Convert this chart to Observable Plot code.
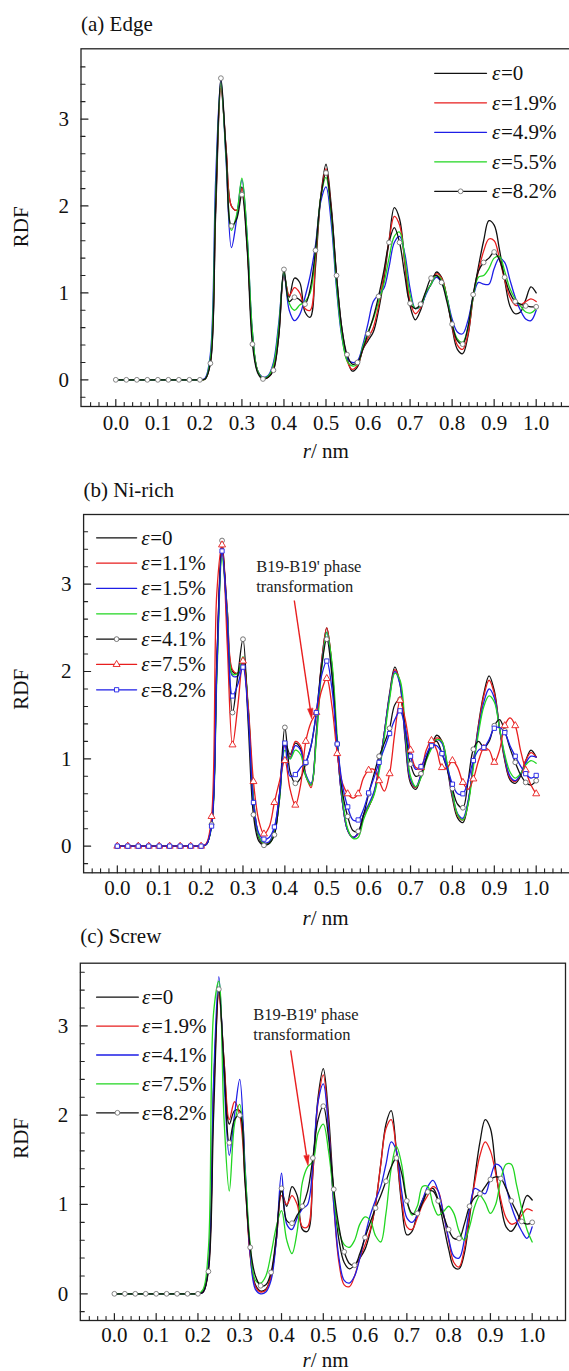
<!DOCTYPE html>
<html><head><meta charset="utf-8">
<script src="https://cdn.jsdelivr.net/npm/d3@7"></script>
<script src="https://cdn.jsdelivr.net/npm/@observablehq/plot@0.6"></script>
<style>
html,body{margin:0;padding:0;background:#fff;overflow:hidden;}
#root{position:relative;width:569px;height:1371px;overflow:hidden;background:#fff;font-family:"Liberation Serif","DejaVu Serif",serif;}
#root svg, #root svg text, #root svg tspan{font-family:"Liberation Serif","DejaVu Serif",serif !important;}
</style></head>
<body><div id="root"></div>
<script>
// shared r grid (nm)
const r = [0,0.0125,0.025,0.0375,0.05,0.0625,0.075,0.0875,0.1,0.1125,0.125,0.1375,0.15,0.1625,0.175,0.1875,
0.2,0.2125,0.225,0.2375,0.25,0.2625,0.275,0.2875,0.3,0.3125,0.325,0.3375,0.35,
0.3625,0.375,0.3875,0.4,0.4125,0.425,0.4375,0.45,0.4625,0.475,0.4875,0.5,0.5125,
0.525,0.5375,0.55,0.5625,0.575,0.5875,0.6,0.6125,0.625,0.6375,0.65,0.6625,0.675,
0.6875,0.7,0.7125,0.725,0.7375,0.75,0.7625,0.775,0.7875,0.8,0.8125,0.825,0.8375,
0.85,0.8625,0.875,0.8875,0.9,0.9125,0.925,0.9375,0.95,0.9625,0.975,0.9875,1.0];

// (a) Edge
const edge_0 = [0,0,0,0,0,0,0,0,0,0,0,0,0,0,0,0,
0,0.01,0.2,1.9,3.35,2.65,2.0,1.95,2.22,1.55,0.5,0.1,0.02,
0.03,0.12,0.5,1.2,0.95,1.17,1.12,0.78,0.72,1.3,2.1,2.48,2.0,
1.2,0.6,0.25,0.1,0.15,0.35,0.45,0.55,0.8,1.15,1.6,1.98,1.85,
1.35,0.85,0.69,0.8,1.0,1.1,1.24,1.18,0.95,0.6,0.35,0.3,0.5,
0.95,1.3,1.6,1.83,1.78,1.5,1.15,0.85,0.76,0.78,0.92,1.07,1.0];
const edge_19 = [0,0,0,0,0,0,0,0,0,0,0,0,0,0,0,0,
0,0.01,0.22,2.0,3.38,2.65,2.0,1.95,2.2,1.55,0.5,0.1,0.02,
0.03,0.14,0.55,1.2,0.97,1.06,1.0,0.82,0.8,1.38,2.1,2.43,1.95,
1.15,0.55,0.22,0.12,0.17,0.35,0.48,0.6,0.85,1.2,1.6,1.88,1.78,
1.35,0.9,0.76,0.83,1.0,1.1,1.22,1.17,0.95,0.62,0.4,0.35,0.52,
0.95,1.25,1.48,1.62,1.6,1.4,1.15,0.95,0.86,0.86,0.9,0.93,0.9];
const edge_49 = [0,0,0,0,0,0,0,0,0,0,0,0,0,0,0,0,
0,0.02,0.3,2.3,3.45,2.5,1.52,1.85,2.3,1.65,0.55,0.1,0.03,
0.05,0.2,0.65,1.22,0.8,0.68,0.75,0.95,1.2,1.55,2.05,2.22,1.8,
1.05,0.5,0.25,0.2,0.22,0.4,0.65,0.9,0.98,1.05,1.3,1.58,1.65,
1.45,1.05,0.82,0.85,0.98,1.1,1.18,1.12,0.95,0.7,0.55,0.53,0.68,
0.95,1.12,1.1,1.1,1.28,1.4,1.35,1.15,0.95,0.8,0.7,0.68,0.8];
const edge_55 = [0,0,0,0,0,0,0,0,0,0,0,0,0,0,0,0,
0,0.01,0.25,2.1,3.42,2.55,1.72,1.9,2.32,1.65,0.55,0.1,0.02,
0.04,0.17,0.6,1.24,0.88,0.8,0.86,0.9,1.0,1.45,2.1,2.33,1.9,
1.1,0.52,0.22,0.16,0.18,0.38,0.55,0.7,0.9,1.1,1.4,1.65,1.7,
1.4,0.98,0.82,0.85,1.0,1.1,1.2,1.15,0.95,0.65,0.47,0.43,0.6,
0.95,1.18,1.2,1.28,1.4,1.42,1.25,1.05,0.93,0.85,0.78,0.77,0.82];
const edge_82 = [0,0,0,0,0,0,0,0,0,0,0,0,0,0,0,0,
0,0.01,0.19,2.0,3.47,2.6,1.77,1.85,2.13,1.5,0.41,0.08,0.01,
0.03,0.11,0.5,1.27,0.9,0.95,0.92,0.87,1.05,1.49,2.1,2.38,1.95,
1.2,0.6,0.29,0.18,0.2,0.35,0.53,0.72,0.96,1.25,1.58,1.75,1.58,
1.2,0.88,0.82,0.87,1.02,1.17,1.2,1.12,0.9,0.64,0.45,0.41,0.6,
0.98,1.25,1.35,1.4,1.47,1.38,1.18,1.0,0.9,0.87,0.85,0.84,0.84];

// (b) Ni-rich
const ni_0 = [0,0,0,0,0,0,0,0,0,0,0,0,0,0,0,0,
0,0.02,0.25,2.0,3.38,2.7,2.0,1.98,2.15,1.55,0.5,0.1,0.02,
0.03,0.15,0.55,1.2,1.05,1.18,1.12,0.8,0.7,1.3,2.1,2.5,2.05,
1.15,0.5,0.18,0.1,0.15,0.35,0.45,0.6,0.9,1.3,1.75,2.05,1.85,
1.2,0.72,0.65,0.8,1.0,1.15,1.27,1.2,0.9,0.55,0.32,0.27,0.5,
0.95,1.4,1.75,1.95,1.78,1.35,0.98,0.76,0.72,0.8,0.98,1.1,1.02];
const ni_11 = [0,0,0,0,0,0,0,0,0,0,0,0,0,0,0,0,
0,0.02,0.25,2.1,3.45,2.7,2.02,1.98,2.1,1.55,0.55,0.12,0.03,
0.04,0.18,0.6,1.15,1.02,1.2,1.15,0.82,0.67,1.25,2.1,2.5,2.05,
1.15,0.5,0.18,0.1,0.14,0.35,0.45,0.6,0.9,1.3,1.72,2.02,1.88,
1.25,0.75,0.67,0.82,1.0,1.13,1.24,1.2,0.92,0.58,0.35,0.3,0.5,
0.95,1.38,1.72,1.9,1.75,1.35,1.0,0.78,0.74,0.82,0.98,1.07,1.02];
const ni_15 = [0,0,0,0,0,0,0,0,0,0,0,0,0,0,0,0,
0,0.02,0.25,2.1,3.4,2.65,1.95,1.95,2.12,1.55,0.55,0.12,0.04,
0.05,0.2,0.62,1.18,1.0,1.15,1.1,0.82,0.72,1.25,2.05,2.45,2.0,
1.12,0.5,0.18,0.1,0.15,0.36,0.48,0.62,0.9,1.3,1.72,2.0,1.85,
1.25,0.76,0.68,0.82,1.0,1.13,1.22,1.18,0.92,0.6,0.37,0.32,0.52,
0.95,1.35,1.65,1.8,1.7,1.35,1.02,0.8,0.75,0.82,0.95,1.03,1.02];
const ni_19 = [0,0,0,0,0,0,0,0,0,0,0,0,0,0,0,0,
0,0.02,0.22,1.9,3.3,2.65,1.97,1.98,2.17,1.6,0.55,0.12,0.03,
0.03,0.15,0.55,1.1,1.0,1.1,1.05,0.8,0.7,1.2,2.0,2.45,2.1,
1.25,0.55,0.2,0.09,0.1,0.3,0.45,0.58,0.85,1.25,1.68,1.98,1.9,
1.35,0.8,0.68,0.78,0.98,1.12,1.22,1.2,0.95,0.62,0.36,0.3,0.48,
0.9,1.3,1.6,1.72,1.65,1.35,1.05,0.85,0.78,0.83,0.93,0.98,0.95];
const ni_41 = [0,0,0,0,0,0,0,0,0,0,0,0,0,0,0,0,
0,0.02,0.25,2.1,3.5,2.5,1.53,1.95,2.37,1.4,0.36,0.06,0.01,
0.03,0.13,0.6,1.36,0.85,0.72,0.78,0.95,1.15,1.52,2.05,2.37,1.95,
1.17,0.62,0.34,0.18,0.17,0.35,0.6,0.82,1.03,1.18,1.35,1.62,1.68,
1.35,0.94,0.8,0.83,1.0,1.17,1.2,1.06,0.88,0.66,0.48,0.44,0.75,
1.11,1.2,1.13,1.2,1.38,1.45,1.32,1.12,0.96,0.82,0.73,0.7,0.75];
const ni_75 = [0,0,0,0,0,0,0,0,0,0,0,0,0,0,0,0,
0,0.03,0.34,2.9,3.45,2.3,1.16,1.6,2.12,1.6,0.74,0.3,0.14,
0.22,0.5,0.75,0.98,0.65,0.47,0.7,1.2,1.42,1.53,1.78,1.92,1.6,
1.06,0.72,0.6,0.55,0.6,0.78,0.87,0.88,0.75,0.63,0.83,1.3,1.67,
1.45,1.1,0.9,0.9,1.1,1.21,1.1,0.9,0.9,0.98,0.9,0.73,0.65,
0.77,0.98,1.12,1.1,0.96,1.1,1.38,1.47,1.38,1.1,0.87,0.7,0.6];
const ni_82 = [0,0,0,0,0,0,0,0,0,0,0,0,0,0,0,0,
0,0.02,0.23,2.0,3.38,2.6,1.72,1.85,2.05,1.5,0.5,0.15,0.08,
0.1,0.22,0.6,1.18,0.8,0.82,0.9,0.96,1.15,1.53,1.95,2.12,1.8,
1.17,0.7,0.45,0.3,0.3,0.42,0.61,0.78,0.96,1.12,1.29,1.45,1.55,
1.35,1.03,0.88,0.91,1.05,1.15,1.15,1.06,0.9,0.71,0.6,0.6,0.75,
0.98,1.1,1.13,1.22,1.35,1.36,1.3,1.15,1.03,0.92,0.83,0.78,0.81];

// (c) Screw
const sc_0 = [0,0,0,0,0,0,0,0,0,0,0,0,0,0,0,0,
0,0.02,0.3,2.3,3.4,2.6,1.9,2.05,2.05,1.35,0.45,0.1,0.03,
0.05,0.2,0.6,1.15,0.98,1.2,1.1,0.72,0.7,1.35,2.2,2.52,2.0,
1.15,0.6,0.35,0.28,0.32,0.4,0.5,0.7,1.0,1.45,1.9,2.05,1.6,
1.0,0.66,0.7,0.9,1.05,1.15,1.18,1.05,0.78,0.5,0.3,0.28,0.45,
0.85,1.3,1.7,1.95,1.85,1.4,1.0,0.75,0.7,0.78,0.95,1.1,1.05];
const sc_19 = [0,0,0,0,0,0,0,0,0,0,0,0,0,0,0,0,
0,0.02,0.28,2.2,3.35,2.6,1.95,2.15,2.0,1.3,0.42,0.08,0.02,
0.04,0.2,0.6,1.1,1.0,1.1,1.0,0.75,0.75,1.35,2.15,2.45,1.9,
1.0,0.35,0.1,0.08,0.2,0.4,0.55,0.72,1.0,1.45,1.85,1.95,1.6,
1.05,0.75,0.72,0.85,1.0,1.1,1.2,1.15,0.9,0.6,0.35,0.3,0.5,
0.9,1.25,1.55,1.7,1.6,1.35,1.05,0.85,0.78,0.8,0.88,0.95,0.93];
const sc_41 = [0,0,0,0,0,0,0,0,0,0,0,0,0,0,0,0,
0,0.02,0.3,2.4,3.55,2.4,1.55,2.0,2.4,1.45,0.45,0.05,0.0,
0.02,0.15,0.6,1.35,0.78,0.72,0.85,0.95,1.0,1.45,2.15,2.35,1.85,
1.0,0.4,0.15,0.12,0.2,0.4,0.65,0.88,1.05,1.2,1.45,1.7,1.6,
1.15,0.85,0.8,0.88,1.05,1.2,1.27,1.15,0.9,0.62,0.42,0.4,0.6,
0.95,1.18,1.15,1.12,1.3,1.45,1.42,1.2,0.98,0.82,0.7,0.62,0.75];
const sc_75 = [0,0,0,0,0,0,0,0,0,0,0,0,0,0,0,0,
0,0.05,0.5,3.15,3.5,1.95,1.15,1.9,2.12,1.4,0.55,0.15,0.12,
0.2,0.45,0.75,0.93,0.6,0.45,0.7,1.25,1.42,1.48,1.8,1.9,1.6,
1.1,0.7,0.55,0.52,0.6,0.78,0.86,0.82,0.65,0.58,0.9,1.4,1.65,
1.45,1.05,0.88,0.98,1.2,1.2,1.0,0.88,0.92,0.98,0.9,0.7,0.6,
0.75,0.98,1.1,1.02,0.9,1.0,1.28,1.45,1.45,1.22,0.95,0.72,0.58];
const sc_82 = [0,0,0,0,0,0,0,0,0,0,0,0,0,0,0,0,
0,0.02,0.25,2.0,3.41,2.55,1.69,1.95,2.0,1.25,0.52,0.2,0.09,
0.1,0.24,0.65,1.18,0.82,0.79,0.88,0.98,1.15,1.52,1.95,2.1,1.75,
1.17,0.75,0.47,0.34,0.32,0.45,0.63,0.8,0.96,1.1,1.26,1.42,1.52,
1.35,1.04,0.9,0.9,1.02,1.14,1.15,1.04,0.88,0.72,0.62,0.62,0.78,
0.98,1.08,1.12,1.2,1.28,1.31,1.29,1.18,1.04,0.92,0.81,0.78,0.8];

// legend labels
const edgeLabels = ["0","1.9%","4.9%","5.5%","8.2%"];
const niLabels = ["0","1.1%","1.5%","1.9%","4.1%","7.5%","8.2%"];
const screwLabels = ["0","1.9%","4.1%","7.5%","8.2%"];

// tick labels
const xMajorTicks = [0,0.1,0.2,0.3,0.4,0.5,0.6,0.7,0.8,0.9,1.0];
const yMajorTicks = [0,1,2,3];

// annotations (data units)
const annoTextB = [{x:0.3316,y:3.203,t:"B19-B19' phase"},{x:0.3316,y:2.974,t:"transformation"}];
const annoArrowB = [{x1:0.4225,y1:2.813,x2:0.4641,y2:1.459}];
const annoTextC = [{x:0.3325,y:3.123,t:"B19-B19' phase"},{x:0.3325,y:2.903,t:"transformation"}];
const annoArrowC = [{x1:0.4219,y1:2.724,x2:0.4635,y2:1.436}];

const FONT = '"Liberation Serif","DejaVu Serif",serif';
const C = {k:"#111111", red:"#e81e1e", blue:"#1e1ee6", green:"#22d622"};
const root = document.getElementById("root");

const seg = {draw(ctx, l){ ctx.moveTo(0,0); ctx.lineTo(0,-l); }};
const head = {draw(ctx, l){ ctx.moveTo(-2.6,0); ctx.lineTo(0,-l); ctx.lineTo(2.6,0); ctx.closePath(); }};

function rowsOf(vals){ return r.map((x,i)=>({r:x, v:vals[i]})); }

function panel(p){
  const marks = [];
  const T = {fontFamily:FONT, fill:"#111"};
  for (const s of p.series){
    marks.push(Plot.line(rowsOf(s.values), {x:"r", y:"v", stroke:s.color, strokeWidth:1.3, curve:"catmull-rom"}));
  }
  for (const s of p.series){
    if (!s.symbol) continue;
    marks.push(Plot.dot(rowsOf(s.values).filter((d,i)=>i%2===0), {x:"r", y:"v", symbol:s.symbol, r:s.r, fill:"white", stroke:s.mstroke, strokeWidth:0.9}));
  }
  marks.push(Plot.frame({stroke:"#222", strokeWidth:1.3}));
  const [x0,x1] = p.xDomain, [y0,y1] = p.yDomain;
  const xMinor = d3.range(-5, 56).map(i=>+(i*0.02).toFixed(2)).filter(v=>v>x0+0.003 && v<x1-0.003 && Math.abs(v*10-Math.round(v*10))>1e-6);
  const yMinor = d3.range(-2, 20).map(i=>+(i*0.2).toFixed(1)).filter(v=>v>y0+0.02 && v<y1-0.05 && Math.abs(v-Math.round(v))>1e-6);
  marks.push(Plot.vector(xMajorTicks, {x:d=>d, frameAnchor:"bottom", length:7, anchor:"start", shape:seg, stroke:"#222", strokeWidth:1.2}));
  marks.push(Plot.vector(xMinor, {x:d=>d, frameAnchor:"bottom", length:4, anchor:"start", shape:seg, stroke:"#222", strokeWidth:1.1}));
  marks.push(Plot.vector(yMajorTicks, {y:d=>d, frameAnchor:"left", rotate:90, length:7, anchor:"start", shape:seg, stroke:"#222", strokeWidth:1.2}));
  marks.push(Plot.vector(yMinor, {y:d=>d, frameAnchor:"left", rotate:90, length:4, anchor:"start", shape:seg, stroke:"#222", strokeWidth:1.1}));
  marks.push(Plot.text(xMajorTicks, {...T, x:d=>d, frameAnchor:"bottom", dy:p.xLabDy, text:d=>d.toFixed(1), lineAnchor:"bottom", fontSize:21}));
  marks.push(Plot.text(yMajorTicks, {...T, y:d=>d, frameAnchor:"left", dx:-12, text:d=>String(d), textAnchor:"end", lineAnchor:"middle", fontSize:21}));
  marks.push(Plot.text(["RDF"], {...T, frameAnchor:"left", dx:20.5-p.ml, dy:p.rdfDy, rotate:-90, text:d=>d, lineAnchor:"middle", fontSize:21}));
  marks.push(Plot.text(["r"], {...T, frameAnchor:"bottom", dx:p.rnmDx-13.5, dy:p.rnmDy, text:d=>d, textAnchor:"end", lineAnchor:"bottom", fontStyle:"italic", fontSize:21}));
  marks.push(Plot.text(["/"], {...T, frameAnchor:"bottom", dx:p.rnmDx-13.5, dy:p.rnmDy, text:d=>d, textAnchor:"start", lineAnchor:"bottom", fontSize:21}));
  marks.push(Plot.text(["nm"], {...T, frameAnchor:"bottom", dx:p.rnmDx-2.5, dy:p.rnmDy, text:d=>d, textAnchor:"start", lineAnchor:"bottom", fontSize:21}));
  marks.push(Plot.text([p.title], {...T, frameAnchor:"top-left", dy:p.titleDy, text:d=>d, textAnchor:"start", lineAnchor:"bottom", fontSize:21}));
  const L = p.legend;
  p.series.forEach((s,i)=>{
    const dy = L.dy0 + i*L.step;
    marks.push(Plot.vector([s], {frameAnchor:"top-left", dx:L.lineDx, dy, rotate:90, length:L.lineLen, anchor:"start", shape:seg, stroke:s.color, strokeWidth:1.3}));
    if (s.symbol) marks.push(Plot.dot([s], {frameAnchor:"top-left", dx:L.lineDx+L.lineLen/2, dy, symbol:s.symbol, r:s.r, fill:"white", stroke:s.mstroke, strokeWidth:0.9}));
    marks.push(Plot.text([s], {...T, frameAnchor:"top-left", dx:L.textDx, dy, text:()=>"ε", fontStyle:"italic", textAnchor:"start", lineAnchor:"middle", fontSize:21}));
    marks.push(Plot.text([s], {...T, frameAnchor:"top-left", dx:L.textDx+9, dy, text:d=>"="+d.label, textAnchor:"start", lineAnchor:"middle", fontSize:21}));
  });
  if (p.annoText){
    marks.push(Plot.text(p.annoText, {...T, x:"x", y:"y", text:"t", textAnchor:"start", lineAnchor:"middle", fontSize:16.5, fill:"#222"}));
    // filled arrowhead: shaft ends at head base, head drawn as a filled vector
    const kx = (p.width - p.ml - p.mr) / (x1 - x0);
    const ky = (p.height - p.mt - p.mb) / (y1 - y0);
    const HL = 10;
    const shafts = p.annoArrow.map(a => {
      const px = (a.x2 - a.x1) * kx, py = -(a.y2 - a.y1) * ky;
      const len = Math.hypot(px, py);
      const ux = px / len, uy = py / len;
      return {x1:a.x1, y1:a.y1, bx:a.x2 - ux*HL/kx, by:a.y2 + uy*HL/ky,
              angle: Math.atan2(ux, -uy) * 180 / Math.PI};
    });
    marks.push(Plot.link(shafts, {x1:"x1", y1:"y1", x2:"bx", y2:"by", stroke:C.red, strokeWidth:1.4}));
    marks.push(Plot.vector(shafts, {x:"bx", y:"by", rotate:"angle", length:HL, anchor:"start", shape:head, fill:C.red, stroke:C.red, strokeWidth:0.6}));
  }
  const svg = Plot.plot({
    width:p.width, height:p.height,
    marginTop:p.mt, marginRight:p.mr, marginBottom:p.mb, marginLeft:p.ml,
    x:{domain:p.xDomain, axis:null},
    y:{domain:p.yDomain, axis:null},
    style:{background:"transparent", fontFamily:FONT, fontSize:"21px", color:"#111", maxWidth:"none", overflow:"visible"},
    marks
  });
  svg.style.position = "absolute";
  svg.style.left = "0px";
  svg.style.top = p.top + "px";
  root.appendChild(svg);
}

panel({
  top:0, width:575, height:470, mt:48.3, mb:64, ml:80.5, mr:4.5,
  xDomain:[-0.0828,1.0828], yDomain:[-0.307,3.808],
  xLabDy:23.5, rdfDy:19.5, rnmDx:-1.5, rnmDy:51, title:"(a) Edge", titleDy:-17.8,
  legend:{lineDx:353.7, lineLen:51.8, textDx:411, dy0:24.5, step:29.5},
  series:[
    {label:edgeLabels[0], values:edge_0, color:C.k},
    {label:edgeLabels[1], values:edge_19, color:C.red},
    {label:edgeLabels[2], values:edge_49, color:C.blue},
    {label:edgeLabels[3], values:edge_55, color:C.green},
    {label:edgeLabels[4], values:edge_82, color:C.k, symbol:"circle", r:2.4, mstroke:"#777"}
  ]
});

panel({
  top:460, width:575, height:470, mt:54, mb:57.7, ml:83.1, mr:3.7,
  xDomain:[-0.0805,1.085], yDomain:[-0.305,3.798],
  xLabDy:22, rdfDy:16, rnmDx:-3.5, rnmDy:51.7, title:"(b) Ni-rich", titleDy:-18,
  legend:{lineDx:13, lineLen:40, textDx:57.6, dy0:23.3, step:25.33},
  series:[
    {label:niLabels[0], values:ni_0, color:C.k},
    {label:niLabels[1], values:ni_11, color:C.red},
    {label:niLabels[2], values:ni_15, color:C.blue},
    {label:niLabels[3], values:ni_19, color:C.green},
    {label:niLabels[4], values:ni_41, color:C.k, symbol:"circle", r:2.4, mstroke:"#666"},
    {label:niLabels[5], values:ni_75, color:C.red, symbol:"triangle", r:2.6, mstroke:C.red},
    {label:niLabels[6], values:ni_82, color:C.blue, symbol:"square", r:2.4, mstroke:C.blue}
  ],
  annoText:annoTextB, annoArrow:annoArrowB
});

panel({
  top:910, width:569, height:461, mt:52.7, mb:51, ml:79.8, mr:4,
  xDomain:[-0.0816,1.0797], yDomain:[-0.299,3.701],
  xLabDy:21.7, rdfDy:17, rnmDx:1.3, rnmDy:46, title:"(c) Screw", titleDy:-20.7,
  legend:{lineDx:16.3, lineLen:41.7, textDx:61.7, dy0:34, step:28.9},
  series:[
    {label:screwLabels[0], values:sc_0, color:C.k},
    {label:screwLabels[1], values:sc_19, color:C.red},
    {label:screwLabels[2], values:sc_41, color:C.blue},
    {label:screwLabels[3], values:sc_75, color:C.green},
    {label:screwLabels[4], values:sc_82, color:C.k, symbol:"circle", r:2.4, mstroke:"#777"}
  ],
  annoText:annoTextC, annoArrow:annoArrowC
});
</script>
</body></html>
